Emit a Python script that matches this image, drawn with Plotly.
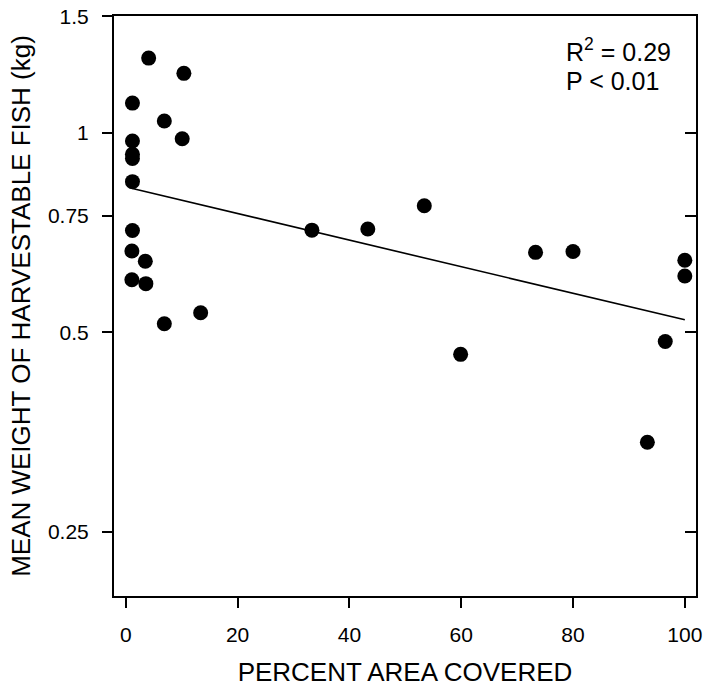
import math
import plotly.graph_objects as go

# Data
area_pct = [4.1, 10.4, 1.2, 6.9, 10.1, 1.2, 1.2, 1.2, 1.2, 1.2, 33.3, 43.3, 1.1, 3.5,
            1.1, 3.6, 6.9, 13.4, 53.4, 73.3, 80.0, 100.0, 100.0, 96.5, 59.9, 93.3]
mean_weight = [1.297, 1.23, 1.109, 1.042, 0.980, 0.972, 0.928, 0.915, 0.844, 0.712, 0.713,
               0.716, 0.663, 0.640, 0.600, 0.592, 0.515, 0.535, 0.776, 0.660, 0.662,
               0.642, 0.608, 0.484, 0.463, 0.341]
fit_x = [1.2, 100.0]
fit_y = [0.824, 0.522]
y_tickvals = [0.25, 0.5, 0.75, 1, 1.5]
y_ticktext = ["0.25", "0.5", "0.75", "1", "1.5"]
x_tickvals = [0, 20, 40, 60, 80, 100]
y_min, y_max = 0.2, 1.5

FONT = "Arial, Liberation Sans, sans-serif"

W, H = 705, 687
l, r, t, b = 114, 9, 16, 91
y_range = [math.log10(y_min) - 0.0004, math.log10(y_max) + 0.0004]

fig = go.Figure()
fig.add_trace(go.Scatter(x=fit_x, y=fit_y, mode="lines",
                         line=dict(color="black", width=1.6), showlegend=False,
                         hoverinfo="skip"))
fig.add_trace(go.Scatter(x=area_pct, y=mean_weight, mode="markers",
                         marker=dict(color="black", size=15), showlegend=False))
# invisible trace to activate the right-hand axis
fig.add_trace(go.Scatter(x=[fit_x[0]], y=[fit_y[0]], yaxis="y2", mode="markers",
                         marker=dict(opacity=0), showlegend=False, hoverinfo="skip"))

fig.update_layout(
    width=W, height=H,
    margin=dict(l=l, r=r, t=t, b=b, autoexpand=False),
    plot_bgcolor="white", paper_bgcolor="white",
    showlegend=False,
    font=dict(family=FONT, color="black", size=21),
    xaxis=dict(range=[-2.1, 102], tickvals=x_tickvals, ticks="outside", ticklen=10,
               tickwidth=1.5, tickcolor="black", showline=True, linecolor="black",
               linewidth=2, mirror=True, showgrid=False, zeroline=False,
               automargin=False,
               tickfont=dict(size=21), ticklabelstandoff=9, ticklabeloverflow="allow",
               title=dict(text="PERCENT AREA COVERED", font=dict(size=26), standoff=23)),
    yaxis=dict(type="log", range=y_range, tickvals=y_tickvals,
               ticktext=y_ticktext, ticks="outside", ticklen=10, tickwidth=1.5,
               tickcolor="black", showline=True, linecolor="black", linewidth=2,
               mirror=True, showgrid=False, zeroline=False, tickfont=dict(size=21),
               automargin=False,
               ticklabelstandoff=9, ticklabeloverflow="allow",
               title=dict(text="MEAN WEIGHT OF HARVESTABLE FISH (kg)",
                          font=dict(size=26), standoff=10)),
    yaxis2=dict(type="log", range=y_range, overlaying="y", side="right",
                tickvals=y_tickvals, ticks="inside", ticklen=11, tickwidth=1.5,
                tickcolor="black", showticklabels=False, showgrid=False,
                automargin=False, zeroline=False, showline=False),
)

# annotation positions given in page pixels (left edge, baseline)
ann_specs = [("R<sup>2</sup> = 0.29", 564, 62), ("P < 0.01", 564, 91)]
pw, ph = W - l - r, H - t - b
for text, px, py in ann_specs:
    fig.add_annotation(x=(px - l) / pw, y=(H - b - py - 6) / ph,
                       xref="paper", yref="paper", text=text, showarrow=False,
                       xanchor="left", yanchor="bottom", font=dict(size=25))

# remove the default 8px page margin so the figure fills the window exactly
fig.write_html("out.html",
               config={"displayModeBar": False},
               post_script="document.body.style.margin='0';"
                           "document.body.style.overflow='hidden';")
